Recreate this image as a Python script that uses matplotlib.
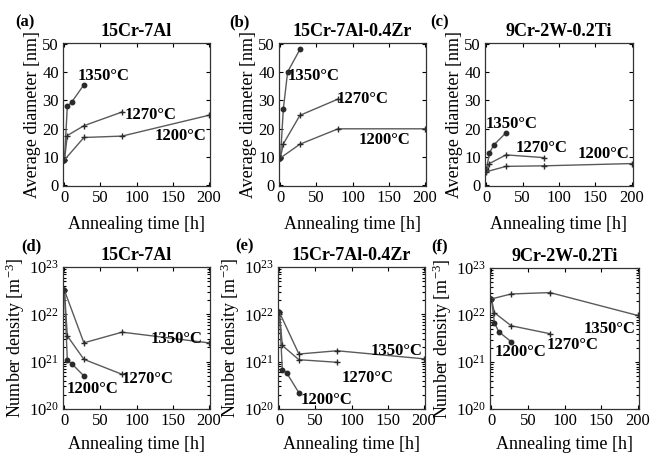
import matplotlib
matplotlib.use("Agg")
import matplotlib.pyplot as plt
from matplotlib.ticker import LogLocator, NullFormatter, MultipleLocator

plt.rcParams['font.family'] = ['Liberation Serif', 'DejaVu Serif']
plt.rcParams['mathtext.fontset'] = 'custom'
plt.rcParams['mathtext.rm'] = 'Liberation Serif'
plt.rcParams['mathtext.it'] = 'Liberation Serif:italic'
plt.rcParams['mathtext.bf'] = 'Liberation Serif:bold'

# ---------------- data ----------------
alloys = ["15Cr-7Al", "15Cr-7Al-0.4Zr", "9Cr-2W-0.2Ti"]
panel_top = ["(a)", "(b)", "(c)"]
panel_bot = ["(d)", "(e)", "(f)"]
temps = ["1350°C", "1270°C", "1200°C"]

t_1350 = [0, 4, 10, 27]
t_1270 = [0, 4, 27, 80]
t_1200 = [0, 27, 80, 200]

# average diameter [nm]
d_a_1350 = [8.8, 27.9, 29.4, 35.6]
d_a_1270 = [8.8, 17.5, 21.0, 25.9]
d_a_1200 = [8.8, 16.8, 17.3, 24.7]

d_b_1350 = [9.5, 27.0, 40.2, 48.2]
d_b_1270 = [9.5, 14.5, 24.7, 30.5]
d_b_1200 = [9.5, 14.4, 19.9, 19.9]

d_c_1350 = [5.5, 11.2, 14.1, 18.5]
d_c_1270 = [5.0, 7.5, 10.6, 9.6]
d_c_1200 = [4.6, 6.5, 6.7, 7.5]

# number density [m^-3]
n_d_1350 = [3.2e22, 1.07e21, 9.1e20, 5.0e20]
n_d_1270 = [3.2e22, 3.5e21, 1.12e21, 5.4e20]
n_d_1200 = [3.2e22, 2.5e21, 4.2e21, 2.5e21]

n_e_1350 = [1.1e22, 6.8e20, 5.8e20, 2.2e20]
n_e_1270 = [1.1e22, 2.2e21, 1.1e21, 9.7e20]
n_e_1200 = [1.1e22, 1.45e21, 1.7e21, 1.15e21]

n_f_1350 = [2.2e22, 6.9e21, 4.4e21, 2.7e21]
n_f_1270 = [2.2e22, 1.12e22, 5.9e21, 4.0e21]
n_f_1200 = [2.2e22, 2.8e22, 3.0e22, 9.8e21]

diam = [(d_a_1350, d_a_1270, d_a_1200),
        (d_b_1350, d_b_1270, d_b_1200),
        (d_c_1350, d_c_1270, d_c_1200)]
dens = [(n_d_1350, n_d_1270, n_d_1200),
        (n_e_1350, n_e_1270, n_e_1200),
        (n_f_1350, n_f_1270, n_f_1200)]

# label anchor positions (data coords, left-center): order 1350, 1270, 1200 label texts
lab_top = [[(18.6, 38.7), (84, 25.0), (125.6, 17.3)],
           [(9.3, 38.7), (78, 30.5), (109, 15.8)],
           [(-1.4, 21.6), (40.6, 13.2), (126, 10.8)]]
lab_bot = [[(119, 3.0e21), (80, 4.2e20), (3.7, 2.6e20)],
           [(126, 1.72e21), (86, 4.5e20), (29.7, 1.58e20)],
           [(126, 5.1e21), (76, 2.26e21), (4.6, 1.6e21)]]

# ---------------- layout ----------------
W, H = 656, 457
fig = plt.figure(figsize=(W / 100, H / 100), dpi=100)

def add_ax(l, r, t, b):
    return fig.add_axes([l / W, 1 - b / H, (r - l) / W, (b - t) / H])

top_boxes = [(63, 210, 43, 186), (279, 426, 43, 186), (485, 633, 43, 186)]
bot_boxes = [(63, 210, 267, 409), (278, 425, 267, 409), (490, 639, 268, 409)]
top_plab = [(25, 22), (239, 22), (440, 22)]
bot_plab = [(31, 246), (245, 246), (440, 246)]

lc = '#5a5a5a'
mc = '#2a2a2a'

def style(ax):
    ax.tick_params(direction='in', top=True, right=True, which='both',
                   labelsize=12, length=3, width=0.8, pad=3)
    ax.tick_params(which='minor', length=2)
    for s in ax.spines.values():
        s.set_linewidth(0.9)
        s.set_color('#333333')

def draw_series(ax, series):
    s1350, s1270, s1200 = series
    ax.plot(t_1350, s1350, color=lc, lw=1.0, marker='o', ms=3.2, mfc=mc, mec=mc)
    ax.plot(t_1270, s1270, color=lc, lw=1.0, marker='+', ms=5, mew=1.0, mec=mc)
    ax.plot(t_1200, s1200, color=lc, lw=1.0, marker='+', ms=5, mew=1.0, mec=mc)

for i in range(3):
    l, r, t, b = top_boxes[i]
    ax = add_ax(l, r, t, b)
    draw_series(ax, diam[i])
    ax.set_xlim(-2, 202)
    ax.set_ylim(-0.5, 50.5)
    ax.xaxis.set_major_locator(MultipleLocator(50))
    ax.yaxis.set_major_locator(MultipleLocator(10))
    style(ax)
    ax.set_xlabel("Annealing time [h]", fontsize=13, labelpad=7)
    ax.set_ylabel("Average diameter [nm]", fontsize=13, labelpad=1)
    ax.set_title(alloys[i], fontsize=13, fontweight='bold', pad=5)
    for txt, (x, y) in zip(temps, lab_top[i]):
        ax.text(x, y, txt, fontsize=12, fontweight='bold', ha='left', va='center')
    fig.text(top_plab[i][0] / W, 1 - top_plab[i][1] / H, panel_top[i],
             fontsize=12, fontweight='bold', ha='center', va='center')

for i in range(3):
    l, r, t, b = bot_boxes[i]
    ax = add_ax(l, r, t, b)
    draw_series(ax, dens[i])
    ax.set_yscale('log')
    ax.set_xlim(-2, 202)
    ax.set_ylim(1e20, 1e23)
    ax.xaxis.set_major_locator(MultipleLocator(50))
    ax.yaxis.set_major_locator(LogLocator(base=10, numticks=10))
    ax.yaxis.set_minor_locator(LogLocator(base=10, subs=range(2, 10), numticks=10))
    ax.yaxis.set_minor_formatter(NullFormatter())
    style(ax)
    ax.set_xlabel("Annealing time [h]", fontsize=13, labelpad=5)
    ax.set_ylabel("Number density [m$^{-3}$]", fontsize=13, labelpad=1)
    ax.set_title(alloys[i], fontsize=13, fontweight='bold', pad=5)
    for txt, (x, y) in zip(temps, lab_bot[i]):
        ax.text(x, y, txt, fontsize=12, fontweight='bold', ha='left', va='center')
    fig.text(bot_plab[i][0] / W, 1 - bot_plab[i][1] / H, panel_bot[i],
             fontsize=12, fontweight='bold', ha='center', va='center')

fig.savefig("out.png", dpi=100)
